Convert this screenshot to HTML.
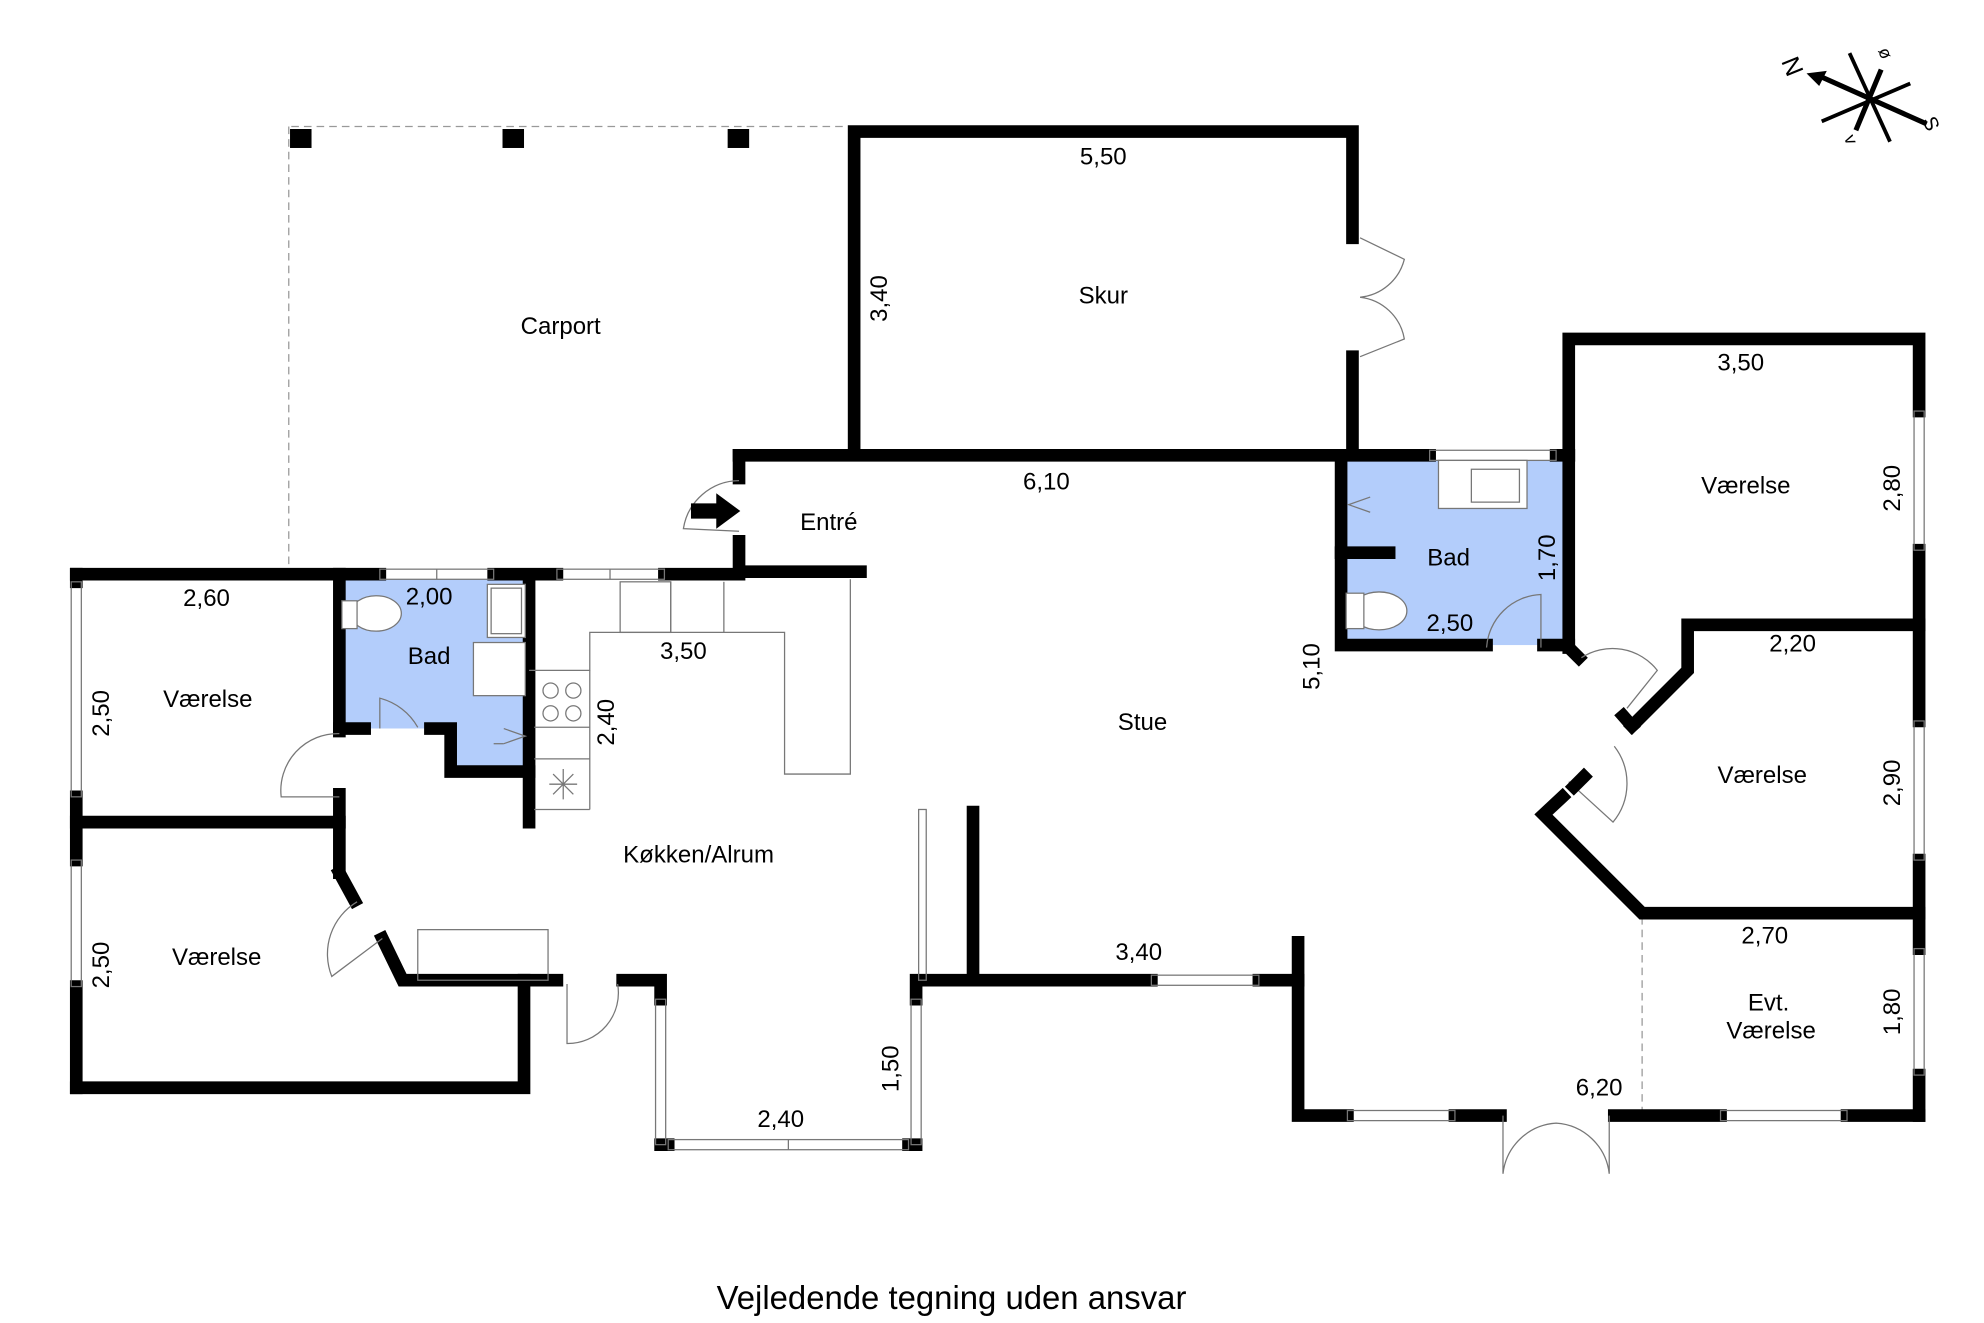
<!DOCTYPE html>
<html><head><meta charset="utf-8"><style>
html,body{margin:0;padding:0;background:#fff}
svg{display:block}
text{font-family:"Liberation Sans",Arial,sans-serif;font-size:19px;fill:#000}
</style></head><body>
<svg width="1984" height="1323" viewBox="0 0 1568 1046" xmlns="http://www.w3.org/2000/svg">
<rect width="1568" height="1046" fill="#fff"/>
<polygon points="268,458 415,458 415,608 356,608 356,576 268,576" fill="#b3cdfb"/>
<rect x="1062" y="364" width="175" height="146" fill="#b3cdfb"/>
<g stroke="#999" stroke-width="1" stroke-dasharray="6,4" fill="none">
<line x1="230" y1="100" x2="670" y2="100"/>
<line x1="228" y1="100" x2="228" y2="450"/>
<line x1="1298" y1="725" x2="1298" y2="880"/>
</g>
<rect x="229" y="102" width="17" height="15"/>
<rect x="397" y="102" width="17" height="15"/>
<rect x="575" y="102" width="17" height="15"/>
<g stroke="#000" stroke-width="10" fill="none" stroke-linecap="square">
<polyline points="675,358 675,104 1069,104 1069,188"/>
<line x1="1069" y1="282" x2="1069" y2="358"/>
<line x1="584" y1="360" x2="1130" y2="360"/>
<line x1="1230" y1="360" x2="1240" y2="360"/>
<polyline points="584,360 584,378"/>
<polyline points="584,428 584,452 680,452"/>
<line x1="60" y1="454" x2="300" y2="454"/>
<line x1="390" y1="454" x2="440" y2="454"/>
<line x1="525" y1="454" x2="584" y2="454"/>
<line x1="60" y1="454" x2="60" y2="460"/>
<line x1="60" y1="630" x2="60" y2="680"/>
<line x1="60" y1="780" x2="60" y2="860"/>
<polyline points="60,860 414,860 414,775 318,775 302,742"/>
<polyline points="268,690 268,650 60,650"/>
<polyline points="268,690 280,712"/>
<line x1="268" y1="454" x2="268" y2="578"/>
<line x1="268" y1="628" x2="268" y2="650"/>
<line x1="268" y1="576" x2="288" y2="576"/>
<polyline points="340,576 356,576 356,610 418,610"/>
<line x1="418" y1="458" x2="418" y2="650"/>
<line x1="414" y1="775" x2="440" y2="775"/>
<polyline points="492,775 522,775 522,790"/>
<line x1="522" y1="905" x2="528" y2="905"/>
<line x1="718" y1="905" x2="724" y2="905"/>
<polyline points="724,790 724,775 910,775"/>
<polyline points="995,775 1026,775 1026,745"/>
<line x1="769" y1="642" x2="769" y2="775"/>
<polyline points="1026,775 1026,882 1065,882"/>
<line x1="1150" y1="882" x2="1186" y2="882"/>
<line x1="1276" y1="882" x2="1360" y2="882"/>
<line x1="1460" y1="882" x2="1517" y2="882"/>
<polyline points="1240,360 1240,268 1517,268 1517,325"/>
<line x1="1517" y1="435" x2="1517" y2="570"/>
<line x1="1517" y1="680" x2="1517" y2="750"/>
<line x1="1517" y1="850" x2="1517" y2="882"/>
<line x1="1240" y1="360" x2="1240" y2="512"/>
<polyline points="1060,360 1060,510 1175,510"/>
<line x1="1060" y1="437" x2="1098" y2="437"/>
<line x1="1220" y1="510" x2="1240" y2="510"/>
<polyline points="1240,512 1248,520"/>
<polyline points="1338,494 1517,494"/>
<polyline points="1334,494 1334,530 1290,574"/>
<polyline points="1283,566 1290,574"/>
<polyline points="1235,630 1220,644 1298,722 1517,722"/>
</g>
<g stroke="#777" stroke-width="1" fill="none">
<rect x="300" y="450" width="90" height="8"/><line x1="345" y1="450" x2="345" y2="458"/>
<rect x="440" y="450" width="85" height="8"/><line x1="482" y1="450" x2="482" y2="458"/>
<rect x="56" y="460" width="8" height="170"/>
<rect x="56" y="680" width="8" height="100"/>
<rect x="518" y="790" width="8" height="115"/>
<rect x="720" y="790" width="8" height="115"/>
<rect x="528" y="901" width="190" height="8"/><line x1="623" y1="901" x2="623" y2="909"/>
<rect x="910" y="771" width="85" height="8"/>
<rect x="1065" y="878" width="85" height="8"/>
<rect x="1360" y="878" width="100" height="8"/>
<rect x="1513" y="325" width="8" height="110"/>
<rect x="1513" y="570" width="8" height="110"/>
<rect x="1513" y="750" width="8" height="100"/>
<rect x="1130" y="356" width="100" height="8"/>
<rect x="726" y="640" width="6" height="135"/>
<polyline points="418,530 466,530 466,500 620,500 620,612 672,612 672,458"/>
<rect x="490" y="460" width="40" height="40"/>
<line x1="530" y1="460" x2="530" y2="500"/><line x1="572" y1="460" x2="572" y2="500"/>
<line x1="422" y1="575" x2="466" y2="575"/><line x1="422" y1="600" x2="466" y2="600"/>
<line x1="466" y1="530" x2="466" y2="640"/><line x1="422" y1="640" x2="466" y2="640"/>
<circle cx="435" cy="546" r="6"/><circle cx="453" cy="546" r="6"/><circle cx="435" cy="564" r="6"/><circle cx="453" cy="564" r="6"/>
<line x1="434" y1="620" x2="456" y2="620"/><line x1="445" y1="608" x2="445" y2="632"/><line x1="437" y1="612" x2="453" y2="628"/><line x1="453" y1="612" x2="437" y2="628"/>
<rect x="330" y="735" width="103" height="40"/>
<rect x="385" y="462" width="30" height="42" fill="#fff"/><rect x="388" y="465" width="24" height="36"/>
<rect x="374" y="508" width="41" height="42" fill="#fff"/>
<ellipse cx="297" cy="485" rx="20" ry="14" fill="#fff"/><rect x="270" y="475" width="12" height="22" fill="#fff"/>
<rect x="1137" y="364" width="70" height="38" fill="#fff"/><rect x="1163" y="371" width="38" height="26"/>
<ellipse cx="1090" cy="483" rx="22" ry="15" fill="#fff"/><rect x="1064" y="469" width="14" height="28" fill="#fff"/>
<polyline points="398,588 415,582 398,576"/><line x1="390" y1="588" x2="398" y2="588"/>
<polyline points="1083,393 1066,399 1083,405"/>
<path d="M1075,188 L1110,205 A40,40 0 0 1 1075,235 A40,40 0 0 1 1110,268 L1075,282"/>
<path d="M584,380 A45,45 0 0 0 540,418 L584,420"/>
<path d="M268,580 A45,45 0 0 0 222,630 L268,630"/>
<path d="M300,576 L300,552 A48,48 0 0 1 330,575"/>
<path d="M282,713 A48,48 0 0 0 262,772 L302,742"/>
<path d="M448,778 L448,825 A40,40 0 0 0 488,778"/>
<path d="M1175,512 A45,45 0 0 1 1218,470 L1218,512"/>
<path d="M1250,520 A45,45 0 0 1 1310,530 L1286,560"/>
<path d="M1276,590 A48,48 0 0 1 1275,650 L1240,618"/>
<path d="M1188,882 L1188,928 A45,45 0 0 1 1230,888 A45,45 0 0 1 1272,928 L1272,882"/>
</g>
<g stroke="#000" stroke-width="10" fill="none" stroke-linecap="square">
<line x1="1252" y1="614" x2="1244" y2="622"/>
</g>
<polygon points="546,398 566,398 566,390 585,404 566,418 566,410 546,410"/>
<g stroke="#000" stroke-width="3" fill="none">
<line x1="1462" y1="42" x2="1494" y2="112"/>
<line x1="1440" y1="96" x2="1510" y2="66"/>
<line x1="1487" y1="55" x2="1467" y2="103" stroke-width="4"/>
<line x1="1438" y1="60" x2="1523" y2="98" stroke-width="4"/>
</g>
<polygon points="1428,58 1444,56 1438,68" fill="#000"/>
<text x="1408" y="62" transform="rotate(68 1418 55)" style="font-size:20px">N</text>
<text x="1520" y="106" transform="rotate(68 1528 100)" style="font-size:16px">S</text>
<text x="1485" y="47" style="font-size:14px" transform="rotate(68 1490 43)">ø</text>
<text x="1458" y="116" style="font-size:14px" transform="rotate(68 1463 112)">v</text>
<g text-anchor="middle">
<text x="443" y="264">Carport</text>
<text x="872" y="130">5,50</text>
<text x="872" y="240">Skur</text>
<text x="655" y="419">Entré</text>
<text x="827" y="387">6,10</text>
<text x="1376" y="293">3,50</text>
<text x="1380" y="390">Værelse</text>
<text x="1145" y="447">Bad</text>
<text x="1146" y="499">2,50</text>
<text x="1417" y="515">2,20</text>
<text x="1393" y="619">Værelse</text>
<text x="1395" y="746">2,70</text>
<text x="1398" y="799">Evt.</text>
<text x="1400" y="821">Værelse</text>
<text x="1264" y="866">6,20</text>
<text x="903" y="577">Stue</text>
<text x="900" y="759">3,40</text>
<text x="552" y="682">Køkken/Alrum</text>
<text x="540" y="521">3,50</text>
<text x="617" y="891">2,40</text>
<text x="163" y="479">2,60</text>
<text x="164" y="559">Værelse</text>
<text x="339" y="478">2,00</text>
<text x="339" y="525">Bad</text>
<text x="171" y="763">Værelse</text>
<text x="752" y="1035" style="font-size:26px">Vejledende tegning uden ansvar</text>
</g>
<g text-anchor="middle">
<text transform="translate(701,236) rotate(-90)">3,40</text>
<text transform="translate(1229,441) rotate(-90)">1,70</text>
<text transform="translate(1043,527) rotate(-90)">5,10</text>
<text transform="translate(1502,386) rotate(-90)">2,80</text>
<text transform="translate(1502,619) rotate(-90)">2,90</text>
<text transform="translate(1502,800) rotate(-90)">1,80</text>
<text transform="translate(485,571) rotate(-90)">2,40</text>
<text transform="translate(86,564) rotate(-90)">2,50</text>
<text transform="translate(86,763) rotate(-90)">2,50</text>
<text transform="translate(710,845) rotate(-90)">1,50</text>
</g>
</svg>
</body></html>
